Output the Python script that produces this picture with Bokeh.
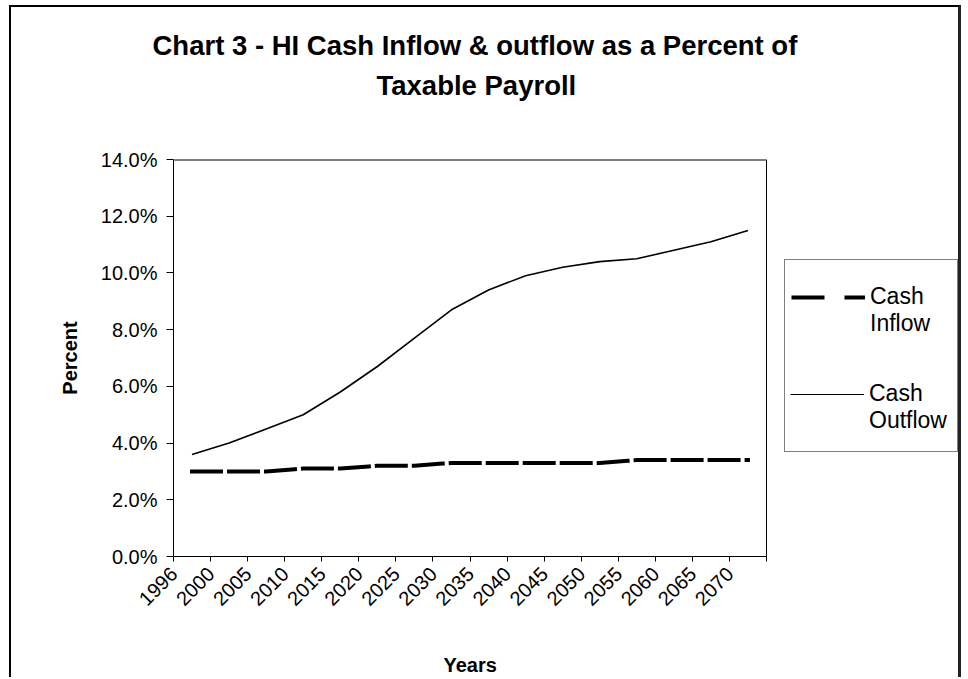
import math
from bokeh.plotting import figure
from bokeh.models import Range1d, FixedTicker, Legend, LegendItem, Title
from bokeh.embed import file_html
from bokeh.resources import INLINE

years = ["1996", "2000", "2005", "2010", "2015", "2020", "2025", "2030",
         "2035", "2040", "2045", "2050", "2055", "2060", "2065", "2070"]
cash_inflow = [3.0, 3.0, 3.0, 3.1, 3.1, 3.2, 3.2, 3.3,
               3.3, 3.3, 3.3, 3.3, 3.4, 3.4, 3.4, 3.4]
cash_outflow = [3.6, 4.0, 4.5, 5.0, 5.8, 6.7, 7.7, 8.7,
                9.4, 9.9, 10.2, 10.4, 10.5, 10.8, 11.1, 11.5]
y_ticks = [0, 2, 4, 6, 8, 10, 12, 14]
legend_lines = [["Cash", "Inflow"], ["Cash", "Outflow"]]
title_lines = ["Chart 3 - HI Cash Inflow & outflow as a Percent of", "Taxable Payroll"]
x_title = "Years"
y_title = "Percent"

FONT = "Liberation Sans"
n = len(years)
y_max = y_ticks[-1]
x_pos = [i + 0.5 for i in range(n)]
label_off = 0.01
label_pos = [i + label_off for i in range(n)]

# layout (pixels): plotting area is 593 px wide; the frame is extended to the
# right so that the legend (drawn inside the frame) is not clipped
AREA_W = 593
EXTRA_W = 193
x_end = n * (AREA_W + EXTRA_W) / AREA_W

p = figure(width=952, height=672, output_backend="svg", toolbar_location=None,
           x_range=Range1d(0, x_end), y_range=Range1d(0, y_max),
           min_border_left=162, min_border_right=4,
           min_border_top=152, min_border_bottom=123,
           styles={"margin-left": "9px", "margin-top": "5px",
                   "border-left": "2px solid #000", "border-top": "2px solid #000",
                   "border-right": "3px solid #222"})
p.xgrid.visible = False
p.ygrid.visible = False
p.outline_line_color = None

# plot-area border (top and right sides)
p.line([0, n], [y_max, y_max], line_color="black", line_width=2)
p.line([n, n], [0, y_max], line_color="black", line_width=1)

p.line(x_pos, cash_outflow, line_color="black", line_width=1.6)
p.line(x_pos, cash_inflow, line_color="black", line_width=4,
       line_dash="29 8", line_cap="square")

# renderers that only provide the legend glyph styles
nan = float("nan")
leg_in = p.line([nan], [nan], line_color="black", line_width=4, line_dash="33 20")
leg_out = p.line([nan], [nan], line_color="black", line_width=1.2)
blank = p.line([nan], [nan], line_color="black", line_alpha=0)


def style_legend(lg):
    lg.label_text_font = FONT
    lg.label_text_font_size = "23px"
    lg.label_text_color = "black"
    lg.glyph_width = 74
    lg.glyph_height = 20
    lg.label_height = 27
    lg.label_width = 81
    lg.label_standoff = 5
    lg.padding = 6
    lg.spacing = 0
    lg.margin = 0
    lg.border_line_color = "black"
    lg.border_line_width = 1


# legend box with the first entry (plus blank rows that give the box its height)
legend_a = Legend(items=[LegendItem(label=legend_lines[0][0], renderers=[leg_in]),
                         LegendItem(label=legend_lines[0][1], renderers=[blank])]
                  + [LegendItem(label=" ", renderers=[blank]) for _ in range(4)],
                  location=(611, 104), title=" ")
style_legend(legend_a)
legend_a.title_text_font = FONT
legend_a.title_text_font_size = "10px"
legend_a.title_standoff = 6
legend_a.background_fill_color = "white"
p.add_layout(legend_a, "center")

# second entry, drawn over the same box
legend_b = Legend(items=[LegendItem(label=legend_lines[1][0], renderers=[leg_out]),
                         LegendItem(label=legend_lines[1][1], renderers=[blank])],
                  location=(611, 116))
style_legend(legend_b)
legend_b.border_line_alpha = 0
legend_b.background_fill_alpha = 0
p.add_layout(legend_b, "center")

# X axis
xa = p.xaxis[0]
xa.bounds = (0, n)
xa.ticker = FixedTicker(ticks=label_pos, minor_ticks=list(range(n + 1)))
xa.major_label_overrides = {pos: y for pos, y in zip(label_pos, years)}
xa.major_tick_line_color = None
xa.minor_tick_line_color = "black"
xa.minor_tick_in = 0
xa.minor_tick_out = 5
xa.major_label_orientation = math.pi / 4
xa.major_label_standoff = 8
xa.major_label_text_font = FONT
xa.major_label_text_font_size = "20px"
xa.major_label_text_color = "black"
xa.axis_line_color = "black"

# Y axis
ya = p.yaxis[0]
ya.ticker = FixedTicker(ticks=y_ticks, minor_ticks=[])
ya.major_label_overrides = {t: f"{t:.1f}%" for t in y_ticks}
ya.major_tick_in = 0
ya.major_tick_out = 7
ya.major_tick_line_color = "black"
ya.major_label_standoff = 9
ya.major_label_text_font = FONT
ya.major_label_text_font_size = "20px"
ya.major_label_text_color = "black"
ya.axis_line_color = "black"
ya.axis_label = y_title
ya.axis_label_text_font = FONT
ya.axis_label_text_font_size = "20px"
ya.axis_label_text_font_style = "bold"
ya.axis_label_text_color = "black"
ya.axis_label_standoff = 17

# x-axis title, centred under the plotting area (spacer first, then the text)
p.add_layout(Title(text=" ", text_font=FONT, text_font_size="10px", standoff=22), "below")
p.add_layout(Title(text=x_title, align="left", offset=270, text_font=FONT,
                   text_font_size="20px", text_font_style="bold",
                   text_color="black", standoff=4), "below")

# chart titles: spacer first (closest to the frame), then the two lines
p.add_layout(Title(text=" ", text_font=FONT, text_font_size="10px", standoff=44), "above")
title_kw = dict(align="left", text_font=FONT, text_font_size="27.5px",
                text_font_style="bold", text_color="black")
p.add_layout(Title(text=title_lines[1], standoff=4, offset=203, **title_kw), "above")
p.add_layout(Title(text=title_lines[0], standoff=10, offset=-21, **title_kw), "above")

open("out.html", "w").write(file_html(p, INLINE))
